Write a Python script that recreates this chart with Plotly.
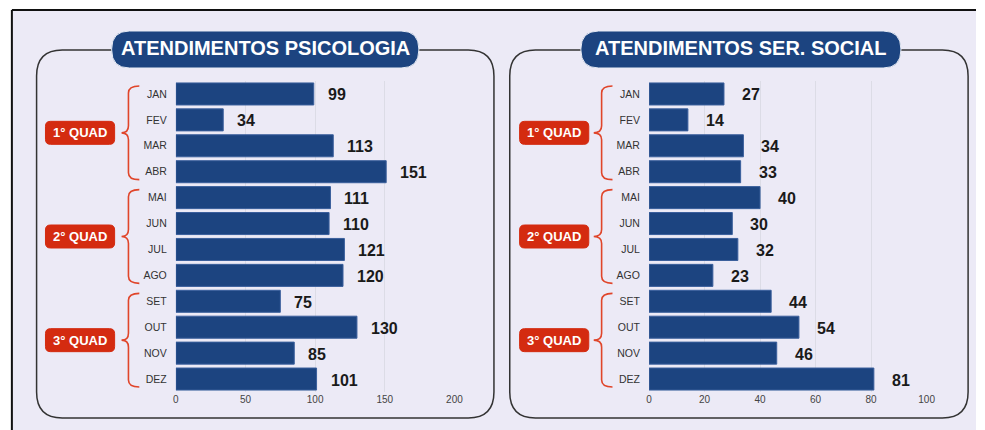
import plotly.graph_objects as go
from plotly.subplots import make_subplots

meses = ["JAN", "FEV", "MAR", "ABR", "MAI", "JUN", "JUL", "AGO", "SET", "OUT", "NOV", "DEZ"]
psicologia = [99, 34, 113, 151, 111, 110, 121, 120, 75, 130, 85, 101]
ser_social = [27, 14, 34, 33, 40, 30, 32, 23, 44, 54, 46, 81]
quads = ["1° QUAD", "2° QUAD", "3° QUAD"]
titulos = ["ATENDIMENTOS PSICOLOGIA", "ATENDIMENTOS SER. SOCIAL"]

W, H = 985, 430
AZUL = "#1c4480"
VERMELHO = "#d42b10"

def px(x):
    return x / W

def py(y):
    return 1 - y / H

def rrect(x0, y0, x1, y1, r):
    # rounded rectangle in pixel coords -> paper path
    pts = [
        ("M", x0 + r, y0), ("L", x1 - r, y0), ("Q", x1, y0, x1, y0 + r),
        ("L", x1, y1 - r), ("Q", x1, y1, x1 - r, y1), ("L", x0 + r, y1),
        ("Q", x0, y1, x0, y1 - r), ("L", x0, y0 + r), ("Q", x0, y0, x0 + r, y0),
    ]
    out = ""
    for p in pts:
        cmd, vals = p[0], p[1:]
        coords = []
        for i in range(0, len(vals), 2):
            coords.append(f"{px(vals[i]):.5f},{py(vals[i+1]):.5f}")
        out += cmd + " " + " ".join(coords) + " "
    return out + "Z"

# plot area in pixels
TOP, BOT = 81, 392
BAND = (BOT - TOP) / len(meses)

def cat_y(i):
    return TOP + (i + 0.5) * BAND

fig = make_subplots(rows=1, cols=2)

paineis = [
    dict(vals=psicologia, x0=175, x1=457, rng=[0, 200], dt=50, box=(34, 497), pill=(110, 421),
         quad=(43, 113), brace=(120, 127, 138), shift=12),
    dict(vals=ser_social, x0=654, x1=935, rng=[0, 100], dt=20, box=(513, 977), pill=(585, 909),
         quad=(523, 593), brace=(598, 606, 617), shift=16),
]

shapes = []
annotations = []

# background + outer frame (right and bottom edges run off the picture)
shapes.append(dict(type="rect", xref="paper", yref="paper", x0=px(9), x1=1, y0=0, y1=py(10),
                   fillcolor="#eceaf6", line=dict(width=0), layer="below"))
shapes.append(dict(type="line", xref="paper", yref="paper", x0=px(9), x1=1, y0=py(10), y1=py(10),
                   line=dict(color="#111", width=2), layer="below"))
shapes.append(dict(type="line", xref="paper", yref="paper", x0=px(9), x1=px(9), y0=0, y1=py(10),
                   line=dict(color="#111", width=2), layer="below"))

for k, p in enumerate(paineis):
    col = k + 1
    fig.add_trace(go.Bar(
        y=meses, x=p["vals"], orientation="h",
        marker=dict(color=AZUL, line=dict(color="#3a5f9c", width=1)),
        showlegend=False, hoverinfo="x+y",
    ), row=1, col=col)

    xa = "xaxis" if k == 0 else "xaxis2"
    ya = "yaxis" if k == 0 else "yaxis2"
    xref = "x" if k == 0 else "x2"
    yref = "y" if k == 0 else "y2"
    fig.layout[xa].update(domain=[px(p["x0"]), px(p["x1"])], range=p["rng"], dtick=p["dt"],
                          showgrid=True, gridcolor="#dcdce6", gridwidth=1, zeroline=False,
                          tickfont=dict(size=10, color="#444"), showline=False)
    fig.layout[ya].update(domain=[py(BOT), py(TOP)], autorange="reversed", showgrid=False,
                          tickfont=dict(size=10.5, color="#333"), ticks="outside", ticklen=6,
                          tickcolor="rgba(0,0,0,0)", showline=False)

    for m, v in zip(meses, p["vals"]):
        annotations.append(dict(x=v, y=m, xref=xref, yref=yref, text="<b>" + str(v) + "</b>",
                                showarrow=False, xanchor="left", xshift=p["shift"], yshift=-1,
                                font=dict(size=16, color="#1a1a1a", family="Liberation Sans")))

    # panel outline
    bx0, bx1 = p["box"]
    shapes.append(dict(type="path", xref="paper", yref="paper", path=rrect(bx0, 50, bx1, 418, 26),
                       line=dict(color="#333", width=1.5), layer="below"))
    # title pill
    tx0, tx1 = p["pill"]
    shapes.append(dict(type="path", xref="paper", yref="paper", path=rrect(tx0, 31, tx1, 68, 18),
                       fillcolor=AZUL, line=dict(color="#e8ecf5", width=1), layer="below"))
    annotations.append(dict(x=px((tx0 + tx1) / 2), y=py(48), xref="paper", yref="paper",
                            text="<b>" + titulos[k] + "</b>", showarrow=False, xanchor="center",
                            yanchor="middle",
                            font=dict(size=20, color="white", family="Liberation Sans")))

    # quads
    qx0, qx1 = p["quad"]
    bpt, bv, bend = p["brace"]
    for g, q in enumerate(quads):
        ytop = cat_y(g * 4) - BAND / 2 + 5
        ybot = cat_y(g * 4 + 3) + BAND / 2 - 5
        ymid = (ytop + ybot) / 2
        shapes.append(dict(type="path", xref="paper", yref="paper",
                           path=rrect(qx0, ymid - 11.5, qx1, ymid + 11.5, 5),
                           fillcolor=VERMELHO, line=dict(color=VERMELHO, width=1)))
        annotations.append(dict(x=px((qx0 + qx1) / 2), y=py(ymid), xref="paper", yref="paper",
                                text="<b>" + q + "</b>", showarrow=False, xanchor="center",
                                yanchor="middle", font=dict(size=13, color="white",
                                                            family="Liberation Sans")))
        r = 7
        path = (f"M {px(bend):.5f},{py(ytop):.5f} "
                f"Q {px(bv):.5f},{py(ytop):.5f} {px(bv):.5f},{py(ytop + r):.5f} "
                f"L {px(bv):.5f},{py(ymid - r):.5f} "
                f"Q {px(bv):.5f},{py(ymid):.5f} {px(bpt):.5f},{py(ymid):.5f} "
                f"Q {px(bv):.5f},{py(ymid):.5f} {px(bv):.5f},{py(ymid + r):.5f} "
                f"L {px(bv):.5f},{py(ybot - r):.5f} "
                f"Q {px(bv):.5f},{py(ybot):.5f} {px(bend):.5f},{py(ybot):.5f}")
        shapes.append(dict(type="path", xref="paper", yref="paper", path=path,
                           line=dict(color="#e0452a", width=1.6)))

# size comes from the browser window (100vw x 100vh), no fixed width/height
fig.update_layout(
    autosize=True,
    margin=dict(l=0, r=0, t=0, b=0),
    paper_bgcolor="white", plot_bgcolor="rgba(0,0,0,0)",
    bargap=0.15,
    font=dict(family="Liberation Sans", color="#333"),
    shapes=shapes, annotations=annotations,
)

js = ("document.documentElement.style.margin='0';document.body.style.margin='0';"
      "document.documentElement.style.overflow='hidden';document.body.style.overflow='hidden';")
fig.write_html("out.html", config={"displayModeBar": False, "responsive": True},
               default_width="100vw", default_height="100vh", post_script=js)
